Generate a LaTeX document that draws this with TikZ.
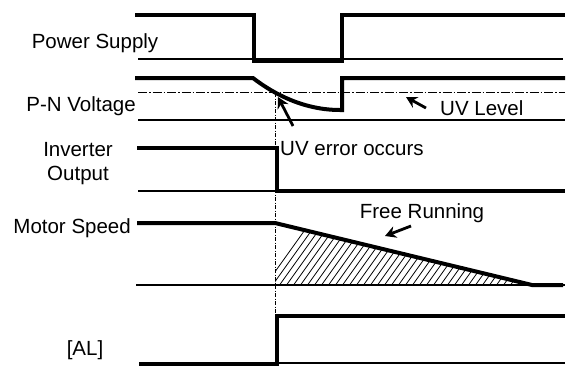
\documentclass[tikz,border=0pt]{standalone}
\usepackage{fontspec}
\setmainfont{Liberation Sans}
\usetikzlibrary{arrows.meta, positioning, calc}

\begin{document}
\begin{tikzpicture}[
  x=1pt, y=-1pt,
  sig/.style={line width=4pt, line join=miter},
  base/.style={line width=1.2pt},
  uvlvl/.style={line width=0.9pt, dash pattern=on 9pt off 2pt on 1.5pt off 2pt},
  marker/.style={line width=0.9pt, dash pattern=on 4pt off 1.5pt on 1pt off 1.5pt},
  note/.style={-{Stealth[length=11pt,width=12pt]}, line width=2.8pt},
  lbl/.style={font=\fontsize{20.5}{24}\selectfont, inner sep=0pt},
]
\useasboundingbox (0,0) rectangle (571,365);

% row labels
\node[lbl] (ps) at (95,43) {Power Supply};
\node[lbl, anchor=east] (pn) at (136,106) {P-N Voltage};
\node[lbl, align=center] (inv) at (78,164) {Inverter\\Output};
\node[lbl, anchor=east] (ms) at (131,228) {Motor Speed};
\node[lbl] (al) at (85,350) {[AL]};

% notes
\node[lbl, anchor=west] (uvl) at (440,108) {UV Level};
\node[lbl, anchor=west] (uve) at (280,149) {UV error occurs};
\node[lbl] (fr) at (422,213) {Free Running};

% power supply
\draw[base] (138,59) -- (563,59);
\draw[sig] (135,15) -- (254,15) -- (254,61) -- (342,61) -- (342,15) -- (565,15);

% P-N voltage
\draw[base] (138,120) -- (565,120);
\draw[uvlvl] (138,92) -- (565,92);
\draw[sig] (135,78) -- (253,78) .. controls (275,95) and (305,110) .. (340,110)
  -- (342,110) -- (342,78) -- (565,78);

% trip instant
\coordinate (trip) at (275,93);
\draw[marker] (trip) -- (275,365);

% inverter output
\draw[base] (138,191) -- (276,191);
\draw[sig] (137,148) -- (277,148) -- (277,191) -- (565,191);

% motor speed, free running area
\coordinate (fr0) at (275,223);
\coordinate (fr1) at (532,285);
\begin{scope}
  \clip (fr0) -- (fr1) -- (275,285) -- cycle;
  \foreach \i in {0,7,...,320}
    \draw[line width=0.8pt] (262+\i,290) -- (262+\i+50,220);
\end{scope}
\draw[base] (136,285) -- (565,285);
\draw[sig] (137,223) -- (fr0) -- (fr1) -- (563,285);

% [AL]
\draw[base] (139,363) -- (565,363);
\draw[sig] (139,364) -- (277,364) -- (277,316) -- (565,316);

% arrows to the notes
\coordinate (uvlT) at (426,108);
\coordinate (uvlH) at (406,97);
\draw[note] (uvlT) -- (uvlH);
\coordinate (uveT) at (293,126);
\coordinate (uveH) at (278,97);
\draw[note] (uveT) -- (uveH);
\coordinate (frT) at (411,226);
\coordinate (frH) at (385,236);
\draw[note] (frT) -- (frH);
\end{tikzpicture}
\end{document}
